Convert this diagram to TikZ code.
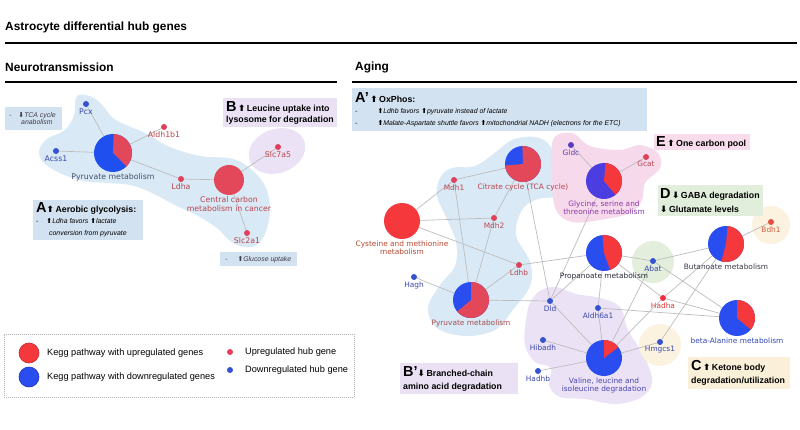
\documentclass[tikz,border=0pt]{standalone}
\usepackage{fontspec}
\setmainfont{Liberation Sans}
\newfontfamily\lblfont{DejaVu Sans}
\newfontfamily\arrfont{DejaVu Sans}
\pgfdeclarelayer{bg}
\pgfdeclarelayer{edges}
\pgfsetlayers{bg,edges,main}
\definecolor{pred}{HTML}{F5383C}
\definecolor{pblue}{HTML}{2A4DF0}
\definecolor{lred}{HTML}{E2475A}
\definecolor{lblue}{HTML}{1F4FEF}
\definecolor{gblue}{HTML}{4B3DE0}
\definecolor{dred}{HTML}{E0405A}
\definecolor{dblue}{HTML}{3552D0}
\definecolor{txred}{HTML}{B8464E}
\definecolor{txblue}{HTML}{3A48AC}
\definecolor{txslate}{HTML}{44506A}
\definecolor{txcys}{HTML}{B84830}
\definecolor{txpyr}{HTML}{A85050}
\definecolor{txgly}{HTML}{8A3DA8}
\definecolor{dgldc}{HTML}{5A3CC0}
\definecolor{txgldc}{HTML}{5A3CB0}
\definecolor{txprop}{HTML}{2A2A3A}
\definecolor{txbut}{HTML}{3A3A4A}
\definecolor{dbdh}{HTML}{E05040}
\definecolor{txbdh}{HTML}{D06040}
\definecolor{dhadha}{HTML}{F03040}
\definecolor{txhadha}{HTML}{E03A3A}
\definecolor{txbala}{HTML}{3448B8}
\definecolor{txval}{HTML}{4A46B0}
\definecolor{txsmall}{HTML}{3C3C46}
\definecolor{legredb}{HTML}{C82828}
\definecolor{legblueb}{HTML}{1E32BE}
\definecolor{bgblue}{HTML}{D9E9F6}
\definecolor{bgpink}{HTML}{F7D9EC}
\definecolor{bgpurple}{HTML}{ECE2F5}
\definecolor{bggreen}{HTML}{E3EFDC}
\definecolor{bgyellow}{HTML}{FBF3DF}
\definecolor{boxblue}{HTML}{D3E2F1}
\definecolor{boxpurple}{HTML}{EAE2F4}
\definecolor{boxpink}{HTML}{F8DCEB}
\definecolor{boxgreen}{HTML}{E1EEDB}
\definecolor{boxyellow}{HTML}{FAF0D9}
\definecolor{conngray}{HTML}{BDBDBD}
\newcommand\upa{{\arrfont ⬆}}
\newcommand\dna{{\arrfont ⬇}}
\newcommand\bigL[1]{{\fontsize{14.5}{14}\selectfont\bfseries #1}}
\newcommand\smit{\fontsize{6.9}{8}\selectfont\mdseries\itshape}
\tikzset{
  gdot/.style={circle, inner sep=0pt, minimum size=6pt, fill=#1},
  pie/.style args={#1/#2/#3/#4/#5}{circle, inner sep=0pt, minimum size=#1, fill=#4,
    path picture={\fill[#5] (path picture bounding box.center) -- ++(#2:30pt)
      arc[start angle=#2, end angle=#3, radius=30pt] -- cycle;}},
  lbL/.style={font=\lblfont\fontsize{7.8}{9}\selectfont, inner sep=1pt, align=center},
  lbR/.style={font=\lblfont\fontsize{7.4}{8.6}\selectfont, inner sep=1pt, align=center},
  conn/.style={draw=conngray, line width=0.7pt},
  boxbg/.style={anchor=north west, inner sep=0pt, fill=#1},
  boxtxt/.style={anchor=west, inner sep=0pt, align=left, font=\bfseries\fontsize{8.8}{13}\selectfont},
  hd/.style={anchor=west, inner sep=0pt, font=\bfseries\fontsize{11.9}{14}\selectfont},
  leg/.style={anchor=west, font=\fontsize{9.2}{10}\selectfont, inner sep=0pt},
  label distance=0pt
}
\begin{document}
\begin{tikzpicture}[x=1pt,y=1pt]
\useasboundingbox (0,0) rectangle (800,-430);
% headings
\node[hd] (title) at (5,-27) {Astrocyte differential hub genes};
\node[hd] (neuro) at (5,-67) {Neurotransmission};
\node[hd] (aging) at (355,-67) {Aging};
\draw[line width=2.2pt] (5,-43) -- (797,-43);
\draw[line width=2.2pt] (5,-82) -- (337,-82);
\draw[line width=2.2pt] (352,-82) -- (797,-82);

% ---------------- left panel nodes
\node[gdot=dblue, label={[lbL, text=txblue]below:Pcx}] (pcx) at (86,-104) {};
\node[gdot=dblue, label={[lbL, text=txblue]below:Acss1}] (acss) at (56,-151) {};
\node[gdot=dred, label={[lbL, text=txred]below:Aldh1b1}] (aldh) at (164,-127) {};
\node[pie=38pt/-45/88/lblue/lred, label={[lbL, text=txslate]below:Pyruvate metabolism}] (pyrL) at (113,-153) {};
\node[gdot=dred, label={[lbL, text=txred]below:Ldha}] (ldha) at (181,-179) {};
\node[circle, inner sep=0pt, minimum size=30pt, fill=lred, label={[lbL, text=txred]below:Central carbon\\metabolism in cancer}] (ccm) at (229,-180) {};
\node[gdot=dred, label={[lbL, text=txred]below:Slc7a5}] (slc7) at (278,-147) {};
\node[gdot=dred, label={[lbL, text=txred]below:Slc2a1}] (slc2) at (247,-233) {};

% ---------------- right panel nodes
\node[gdot=dred, label={[lbR, text=txred]below:Mdh1}] (mdh1) at (454,-180) {};
\node[gdot=dred, label={[lbR, text=txred]below:Mdh2}] (mdh2) at (494,-218) {};
\node[gdot=dred, label={[lbR, text=txred]below:Ldhb}] (ldhb) at (519,-265) {};
\node[pie=36pt/185/452/pblue/lred, label={[lbR, text=txred]below:Citrate cycle (TCA cycle)}] (cit) at (523,-164) {};
\node[circle, inner sep=0pt, minimum size=36pt, fill=pred, label={[lbR, text=txcys]below:Cysteine and methionine\\metabolism}] (cys) at (402,-221) {};
\node[gdot=dblue, label={[lbR, text=txblue]below:Hagh}] (hagh) at (414,-277) {};
\node[pie=36pt/220/450/pblue/lred, label={[lbR, text=txpyr]below:Pyruvate metabolism}] (pyrR) at (471,-300) {};
\node[gdot=dblue, label={[lbR, text=txblue]below:Dld}] (dld) at (550,-301) {};
\node[pie=36pt/-50/85/gblue/pred, label={[lbR, text=txgly]below:Glycine, serine and\\threonine metabolism}] (gly) at (604,-181) {};
\node[gdot=dgldc, label={[lbR, text=txgldc]below:Gldc}] (gldc) at (571,-145) {};
\node[gdot=dred, label={[lbR, text=txred]below:Gcat}] (gcat) at (646,-157) {};
\node[pie=36pt/-70/95/pblue/pred, label={[lbR, text=txprop]below:Propanoate metabolism}] (prop) at (604,-253) {};
\node[gdot=dblue, label={[lbR, text=txblue]below:Abat}] (abat) at (653,-261) {};
\node[pie=36pt/-105/85/pblue/pred, label={[lbR, text=txbut]below:Butanoate metabolism}] (but) at (726,-244) {};
\node[gdot=dbdh, label={[lbR, text=txbdh]below:Bdh1}] (bdh1) at (771,-222) {};
\node[gdot=dhadha, label={[lbR, text=txhadha]below:Hadha}] (hadha) at (663,-298) {};
\node[gdot=dblue, label={[lbR, text=txblue]below:Aldh6a1}] (aldh6) at (598,-308) {};
\node[pie=36pt/-40/90/pblue/pred, label={[lbR, text=txbala]below:beta-Alanine metabolism}] (bala) at (737,-318) {};
\node[pie=36pt/37/90/pblue/pred, label={[lbR, text=txval]below:Valine, leucine and\\isoleucine degradation}] (val) at (604,-358) {};
\node[gdot=dblue, label={[lbR, text=txblue]below:Hibadh}] (hibadh) at (543,-340) {};
\node[gdot=dblue, label={[lbR, text=txblue]below:Hadhb}] (hadhb) at (538,-371) {};
\node[gdot=dblue, label={[lbR, text=txblue]below:Hmgcs1}] (hmgcs) at (660,-342) {};

% ---------------- boxes
\node[boxbg=boxblue, minimum width=57pt, minimum height=23pt] (tca) at (5,-107) {};
\node[boxtxt, text=txsmall, font=\smit, align=left] (tcat) at ([xshift=4pt]tca.west)
  {-\hspace{7pt}\dna TCA cycle\\[-1.5pt]\hspace{12pt}anabolism};
\node[boxbg=boxpurple, minimum width=114pt, minimum height=29pt] (boxB) at (223,-98) {};
\node[boxtxt] (boxBt) at ([xshift=3pt]boxB.west)
  {\bigL{B}\,\upa\,Leucine uptake into\\[-2pt]lysosome for degradation};
\node[boxbg=boxblue, minimum width=110pt, minimum height=40pt] (boxA) at (33,-200) {};
\node[boxtxt] (boxAt) at ([xshift=3pt]boxA.west)
  {\bigL{A}\upa\,Aerobic glycolysis:\\[-2pt]{\smit -\hspace{8pt}\upa Ldha favors \upa lactate}\\[-1pt]{\smit\hspace{13pt}conversion from pyruvate}};
\node[boxbg=boxblue, minimum width=77pt, minimum height=14pt] (gluc) at (220,-252) {};
\node[boxtxt, text=txsmall, font=\smit] (glucT) at ([xshift=5pt]gluc.west)
  {-\hspace{10pt}\upa Glucose uptake};
\node[boxbg=boxblue, minimum width=295pt, minimum height=43pt] (boxAp) at (352,-88) {};
\node[boxtxt] (boxApt) at ([xshift=3pt]boxAp.west)
  {\bigL{A'}\,\upa\,OxPhos:\\[-2.5pt]{\smit -\hspace{20pt}\upa Ldhb favors \upa pyruvate instead of lactate}\\[-1pt]{\smit -\hspace{20pt}\upa Malate-Aspartate shuttle favors \upa mitochondrial NADH (electrons for the ETC)}};
\node[boxbg=boxpink, minimum width=96pt, minimum height=16pt] (boxE) at (654,-134) {};
\node[boxtxt] (boxEt) at ([xshift=2pt]boxE.west) {\bigL{E}\,\upa\,One carbon pool};
\node[boxbg=boxgreen, minimum width=105pt, minimum height=31pt] (boxD) at (658,-185) {};
\node[boxtxt] (boxDt) at ([xshift=2pt]boxD.west)
  {\bigL{D}\,\dna\,GABA degradation\\[0.5pt]\dna\,Glutamate levels};
\node[boxbg=boxyellow, minimum width=102pt, minimum height=32pt] (boxC) at (688,-357) {};
\node[boxtxt] (boxCt) at ([xshift=3pt]boxC.west)
  {\bigL{C}\,\upa\,Ketone body\\[0pt]degradation/utilization};
\node[boxbg=boxpurple, minimum width=118pt, minimum height=31pt] (boxBp) at (400,-363) {};
\node[boxtxt] (boxBpt) at ([xshift=3pt]boxBp.west)
  {\bigL{B'}\dna\,Branched-chain\\[0pt]amino acid degradation};

% ---------------- legend
\node[draw=gray!60, dash pattern=on 1pt off 1pt, line width=0.6pt, minimum width=350pt, minimum height=63pt, anchor=north west, inner sep=0pt] (legend) at (4,-334) {};
\node[circle, inner sep=0pt, minimum size=20pt, fill=pred, draw=legredb, line width=0.6pt] (legup) at (29,-353) {};
\node[circle, inner sep=0pt, minimum size=20pt, fill=pblue, draw=legblueb, line width=0.6pt] (legdn) at (29,-377) {};
\node[leg] (legupt) at (47,-353) {Kegg pathway with upregulated genes};
\node[leg] (legdnt) at (47,-377) {Kegg pathway with downregulated genes};
\node[gdot=dred] (legur) at (230,-352) {};
\node[gdot=dblue] (legdr) at (230,-370) {};
\node[leg] (legurt) at (245,-352) {Upregulated hub gene};
\node[leg] (legdrt) at (245,-370) {Downregulated hub gene};

% ---------------- background blobs
\begin{pgfonlayer}{bg}
\fill[white] (0,0) rectangle (800,-430);
\fill[bgblue] plot[smooth cycle, tension=0.6] coordinates {(77,-96) (92,-97) (103,-106) (113,-118) (128,-126) (145,-133) (170,-147) (200,-156) (233,-159) (253,-171) (266,-188) (270,-212) (264,-236) (252,-247) (233,-243) (217,-228) (198,-216) (173,-204) (150,-192) (130,-185) (108,-183) (83,-181) (60,-173) (44,-163) (39,-151) (47,-139) (65,-130) (74,-115)};
\fill[bgpurple, rotate around={20:(277,-151)}] (277,-151) ellipse[x radius=29pt, y radius=22pt];
\fill[bgblue] plot[smooth cycle, tension=0.6] coordinates {(440,-178) (452,-168) (475,-166) (496,-152) (512,-140) (535,-137) (550,-146) (556,-170) (567,-184) (563,-196) (538,-199) (522,-210) (516,-235) (530,-262) (530,-286) (512,-311) (495,-330) (465,-336) (437,-328) (428,-308) (440,-285) (455,-266) (456,-242) (446,-217) (437,-196)};
\fill[bgpink] plot[smooth cycle, tension=0.6] coordinates {(553,-140) (572,-133) (590,-146) (620,-150) (640,-145) (658,-153) (660,-168) (645,-183) (642,-200) (630,-213) (600,-220) (572,-222) (556,-210) (552,-180)};
\fill[bgpurple] plot[smooth cycle, tension=0.6] coordinates {(530,-303) (540,-291) (556,-287) (576,-294) (600,-298) (620,-307) (628,-330) (645,-358) (652,-383) (640,-398) (615,-404) (585,-399) (560,-397) (549,-385) (551,-368) (535,-362) (525,-345) (526,-320)};
\fill[bggreen] (653,-262) circle[radius=21pt];
\fill[bgyellow] (771,-225) circle[radius=19pt];
\fill[bgyellow] (660,-345) circle[radius=21pt];
\end{pgfonlayer}

% ---------------- connectors
\begin{pgfonlayer}{edges}
\draw[conn] (pcx) -- (pyrL);
\draw[conn] (acss) -- (pyrL);
\draw[conn] (aldh) -- (pyrL);
\draw[conn] (pyrL) -- (ldha);
\draw[conn] (ldha) -- (ccm);
\draw[conn] (ccm) -- (slc7);
\draw[conn] (ccm) -- (slc2);
\draw[conn] (mdh1) -- (cit);
\draw[conn] (mdh1) -- (cys);
\draw[conn] (mdh1) -- (pyrR);
\draw[conn] (mdh2) -- (cit);
\draw[conn] (mdh2) -- (cys);
\draw[conn] (mdh2) -- (pyrR);
\draw[conn] (ldhb) -- (cys);
\draw[conn] (ldhb) -- (pyrR);
\draw[conn] (ldhb) -- (prop);
\draw[conn] (hagh) -- (pyrR);
\draw[conn] (dld) -- (pyrR);
\draw[conn] (dld) -- (cit);
\draw[conn] (dld) -- (gly);
\draw[conn] (dld) -- (prop);
\draw[conn] (dld) -- (val);
\draw[conn] (gldc) -- (gly);
\draw[conn] (gcat) -- (gly);
\draw[conn] (prop) -- (aldh6);
\draw[conn] (prop) -- (abat);
\draw[conn] (prop) -- (hadha);
\draw[conn] (aldh6) -- (val);
\draw[conn] (aldh6) -- (bala);
\draw[conn] (abat) -- (but);
\draw[conn] (abat) -- (bala);
\draw[conn] (abat) -- (val);
\draw[conn] (hadha) -- (but);
\draw[conn] (hadha) -- (bala);
\draw[conn] (hadha) -- (val);
\draw[conn] (hmgcs) -- (but);
\draw[conn] (hmgcs) -- (val);
\draw[conn] (bdh1) -- (but);
\draw[conn] (hibadh) -- (val);
\draw[conn] (hadhb) -- (val);
\end{pgfonlayer}
\end{tikzpicture}
\end{document}
